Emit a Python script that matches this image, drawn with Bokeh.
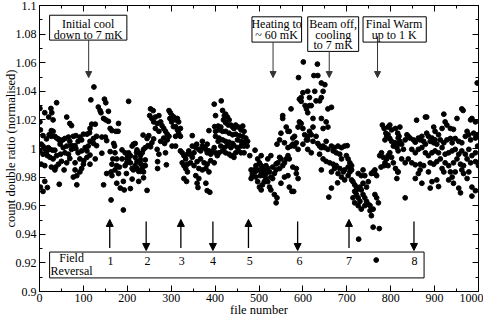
from bokeh.plotting import figure
from bokeh.models import (Range1d, LinearAxis, FixedTicker, CustomJSTickFormatter,
                          BoxAnnotation, Label, Arrow, NormalHead)
from bokeh.embed import file_html
from bokeh.resources import INLINE

FONT = "Liberation Serif"

# ---------------- data ----------------
seg_0_200 = [(124,1.043),(117,1.034),(148,1.0345),(151,1.032),(39,1.032),(203,1.033),(1,1.028),(12,1.025),(26,1.028),(28,1.025),(21,1.022),(31,1.020),(62,1.022),(69,1.0175),(73,1.016),(134,1.029),(138,1.0265),(140,1.025),(157,1.026),(146,1.021),(151,1.020),(157,1.019),(119,1.017),(127,1.017),(180,1.0175),(115,1.014),(1,1.0186),(2,1.013),(161,1.014),(165,1.0125),(174,1.012),(179,1.012),(27,1.0125),(31,1.012),(22,1.0096),(8,1.009),(16,1.0067),(27,1.0085),(35,1.0085),(39,1.0073),(43,1.0067),(45,1.0058),(48,1.005),(53,1.006),(58,1.007),(66,1.008),(69,1.005),(77,1.0085),(83,1.009),(92,1.008),(100,1.010),(108,1.010),(114,1.011),(96,1.006),(88,1.005),(81,1.002),(73,1.002),(62,1.0017),(54,1.0006),(47,1.003),(115,1.005),(123,1.007),(130,1.0085),(142,1.008),(150,1.008),(153,1.0055),(169,1.0035),(171,1.0017),(123,1.0035),(130,1.002),(111,1.0017),(104,1.0006),(4,1.003),(8,1.0017),(12,1.0),(20,1.0006),(24,0.9994),(30,0.9988),(35,0.9988),(1,0.9983),(16,0.9976),(8,0.996),(18,0.995),(24,0.9938),(31,0.9927),(39,0.995),(48,0.996),(58,0.997),(66,0.996),(73,0.9994),(83,0.9999),(88,0.997),(96,0.9983),(108,0.9983),(115,0.9954),(108,0.9938),(101,0.9915),(92,0.9927),(81,0.990),(69,0.993),(62,0.990),(50,0.991),(43,0.989),(37,0.987),(27,0.987),(12,0.988),(4,0.989),(35,0.985),(56,0.985),(81,0.985),(96,0.986),(92,0.9836),(85,0.981),(77,0.980),(100,0.989),(115,0.989),(127,0.9927),(142,0.9967),(161,0.9978),(172,0.997),(188,0.999),(195,0.997),(201,0.9956),(199,0.993),(188,0.9927),(176,0.9927),(167,0.9927),(165,0.989),(176,0.988),(182,0.987),(195,0.988),(199,0.990),(172,0.985),(163,0.9836),(153,0.9825),(180,0.9825),(198,0.9825),(191,0.977),(176,0.9757),(184,0.9723),(193,0.971),(165,0.981),(146,0.9746),(163,0.964),(191,0.957),(85,0.9746),(45,0.975),(12,0.977),(8,0.970),(2,0.973),(18,0.9727)]

seg_200_410 = [(203,0.997),(207,0.995),(211,1.0017),(214,1.003),(218,1.0035),(222,0.999),(226,0.997),(230,0.995),(234,0.997),(237,0.9994),(241,1.0006),(236,1.0094),(245,1.007),(249,1.009),(247,1.002),(253,1.0012),(256,1.004),(260,1.0067),(207,0.990),(211,0.986),(214,0.985),(218,0.988),(222,0.986),(226,0.984),(230,0.984),(234,0.986),(237,0.988),(241,0.988),(237,0.9836),(211,0.9786),(226,0.977),(237,0.9795),(207,0.972),(245,0.9707),(222,0.9908),(230,0.992),(203,0.9927),(231,0.989),(218,0.9938),(241,0.992),(221,0.997),
               (253,1.0277),(259,1.0265),(251,1.023),(256,1.021),(264,1.022),(272,1.023),(260,1.0186),(268,1.0175),(276,1.0186),(279,1.016),(283,1.014),(264,1.014),(272,1.012),(287,1.012),(291,1.010),(295,1.0265),(298,1.025),(302,1.023),(306,1.022),(310,1.020),(314,1.021),(317,1.0186),(297,1.021),(301,1.0186),(305,1.0153),(310,1.0153),(314,1.013),(317,1.0107),(321,1.014),(310,1.0085),(321,1.0085),(295,1.0085),(283,1.0073),(276,1.005),(285,1.0035),(291,1.006),(302,1.0017),(310,1.0017),(268,0.9994),(272,0.996),(287,0.997),(269,0.9908),(269,0.986),(289,0.9886),(348,1.009),
               (321,0.9983),(325,0.997),(329,0.995),(333,0.9927),(337,0.996),(340,0.9983),(344,0.996),(348,0.9938),(352,0.997),(356,1.0006),(358,1.003),(363,0.9994),(367,0.9983),(371,1.0017),(375,1.0006),(379,0.9994),(382,0.997),(386,0.9983),(390,0.996),(394,0.9983),(398,1.0006),(401,0.997),(405,0.995),(325,0.990),(329,0.988),(333,0.986),(337,0.989),(344,0.990),(352,0.988),(359,0.9908),(367,0.9927),(375,0.990),(382,0.989),(390,0.9915),(398,0.990),(363,0.986),(371,0.985),(379,0.986),(386,0.9836),(337,0.9836),(329,0.979),(335,0.977),(356,0.981),(363,0.979),(359,0.9757),(361,0.9727),(379,0.9757),(382,0.9705),(388,0.9694),(348,1.0017),(398,1.031),(401,1.023),(399,1.0153),(407,1.0157),(386,1.0125),(401,1.012),(401,1.0085),(407,1.005),(371,1.005),(382,1.003)]

seg_410_615 = [(414,1.0333),(417,1.0266),(421,1.023),(424,1.024),(428,1.022),(432,1.020),(419,1.020),(424,1.018),(430,1.0164),(436,1.0164),(440,1.015),(443,1.014),(447,1.0164),(453,1.015),(463,1.0157),(459,1.013),(466,1.012),(413,1.015),(409,1.013),(417,1.012),(424,1.012),(432,1.0107),(440,1.0096),(447,1.010),(455,1.009),(463,1.0085),(470,1.0073),(451,1.006),(459,1.005),(466,1.0044),(474,1.005),(409,1.0073),(417,1.006),(424,1.005),(432,1.0044),(440,1.0035),(413,1.0017),(421,1.0006),(428,1.002),(436,1.0006),(443,1.002),(451,1.0006),(459,1.0017),(466,1.0017),(473,1.0017),(409,0.997),(417,0.9983),(424,0.997),(432,0.996),(440,0.995),(447,0.997),(453,0.9983),(459,0.997),(466,0.997),(479,0.995),(491,0.9988),(443,0.9938),(436,0.995),
               (482,0.985),(485,0.9825),(489,0.985),(482,0.979),(485,0.981),(491,0.9836),(493,0.988),(497,0.9927),(501,0.990),(505,0.988),(508,0.986),(505,0.995),(512,0.985),(516,0.988),(520,0.986),(524,0.9836),(527,0.995),(520,0.9927),(497,0.9768),(501,0.973),(505,0.971),(508,0.9746),(512,0.9768),(516,0.979),(520,0.9768),(524,0.973),(527,0.971),(531,0.979),(535,0.9825),(539,0.985),(535,0.9678),(539,0.962),(493,0.980),(503,0.981),(511,0.981),(516,0.9825),(505,0.9836),(527,0.980),(531,0.987),(497,0.985),
               (539,0.9892),(543,0.990),(547,0.9938),(550,0.9927),(547,0.986),(554,0.988),(558,0.990),(562,0.9927),(566,0.995),(569,0.9927),(541,1.003),(547,1.006),(550,1.0107),(554,1.023),(554,1.021),(562,1.015),(566,1.012),(569,1.012),(558,1.004),(566,1.0006),(573,1.0017),(577,1.003),(581,1.0017),(585,1.004),(577,1.0073),(581,1.0085),(589,1.015),(592,1.0186),(596,1.0175),(600,1.014),(604,1.0096),(608,1.006),(592,1.0345),(596,1.0356),(600,1.039),(590,1.0496),(601,1.0605),(611,1.040),(615,1.030),(608,1.0277),(573,1.0277),(577,0.987),(585,0.986),(585,0.9825),(569,0.973),(575,0.970),(579,0.970),(566,0.981),(589,0.979),(550,0.9757),(558,0.980),(541,0.9655),(589,0.9994),(600,1.003),(611,0.9994),(611,1.0085),(605,1.030),(596,1.033)]

seg_615_820 = [(633,1.059),(625,1.051),(634,1.051),(642,1.0458),(650,1.0446),(627,1.040),(646,1.040),(615,1.0356),(630,1.0333),(638,1.0333),(642,1.0356),(657,1.0277),(665,1.0288),(619,1.030),(611,1.025),(623,1.021),(642,1.021),(653,1.0186),(657,1.015),(646,1.014),(623,1.015),(615,1.012),(619,1.0096),(630,1.0085),(611,1.006),(623,1.005),(634,1.0035),(646,1.0017),(653,1.005),(619,0.997),(638,1.0017),(642,1.0006),(650,1.0006),(657,0.9994),(665,1.0017),(672,1.0006),(680,1.0017),(688,1.0006),(695,1.0017),(701,1.002),(669,0.9983),(676,0.997),(684,0.996),(638,0.996),(646,0.9927),(653,0.991),(661,0.990),(669,0.989),(676,0.988),(684,0.986),(692,0.9836),(695,0.985),(688,0.9927),(699,0.995),(703,0.9927),(707,0.990),(711,0.988),(703,0.987),(642,0.985),(665,0.9836),(672,0.986),(680,0.9825),(688,0.980),(695,0.978),(665,0.9723),(679,0.976),(659,0.966),(703,0.981),(707,0.9836),(711,0.985),
               (711,0.978),(714,0.9768),(718,0.9746),(722,0.973),(726,0.9723),(730,0.973),(733,0.971),(718,0.970),(722,0.9678),(726,0.9655),(714,0.9655),(718,0.962),(726,0.960),(733,0.9576),(730,0.963),(737,0.9678),(741,0.9655),(745,0.963),(749,0.961),(753,0.9565),(756,0.953),(741,0.960),(737,0.9757),(741,0.981),(745,0.973),(749,0.9768),(756,0.9825),(760,0.9836),(764,0.9825),(768,0.981),(764,0.9678),(768,0.9655),(772,0.962),(760,0.9576),(753,0.960),(760,0.945),(774,0.944),(737,0.985),(726,0.9825),(733,0.981),(722,0.971),(727,0.9366),(767,0.922),
               (775,0.995),(779,0.997),(783,0.9938),(787,0.990),(791,0.9927),(794,0.995),(798,0.997),(802,0.9938),(806,0.990),(811,0.986),(816,0.9836),(787,1.006),(791,1.0085),(794,1.0096),(798,1.007),(802,1.005),(806,1.0017),(810,1.004),(814,1.0006),(817,0.9983),(781,1.0164),(785,1.014),(789,1.0107),(794,1.015),(798,1.0164),(802,1.013),(811,1.014),(816,1.0107),(819,1.0085),(817,1.003),(778,0.987),(785,0.988),(794,0.988),(814,0.979),(764,0.985)]

seg_820_1000 = [(833,0.9655),(859,1.0198),(879,1.022),(882,1.022),(921,1.024),(962,1.0277),(965,1.0266),(982,1.020),(985,1.021),(993,1.0186),(997,1.0458),(951,1.021),(924,1.0186),(928,1.0164),(936,1.014),(943,1.0134),(898,1.015),(901,1.012),(917,1.014),(909,1.0096),(821,1.015),(817,1.0073),(821,1.005),(825,1.003),(829,0.9994),(833,1.006),(837,1.0096),(840,1.0085),(844,1.0073),(852,1.006),(856,1.0044),(863,1.0073),(867,1.006),(871,1.0085),(875,1.005),(879,1.003),(882,1.0107),(886,1.0085),(890,1.005),(894,1.0073),(898,1.004),(901,1.006),(905,1.003),(913,1.006),(921,1.004),(928,1.006),(936,1.007),(940,1.004),(947,1.007),(955,1.005),(962,1.004),(970,1.0085),(974,1.012),(978,1.0096),(982,1.006),(989,1.0107),(993,1.0073),(998,1.0017),(997,1.0096),
                (848,0.9994),(856,0.997),(863,0.9994),(871,1.0006),(879,0.997),(886,0.995),(894,0.997),(901,0.9983),(909,0.997),(917,1.0006),(924,0.996),(932,0.997),(940,0.9983),(947,0.9994),(955,0.996),(962,0.9983),(970,0.996),(978,0.9994),(985,0.995),(993,0.997),(825,0.9927),(833,0.990),(840,0.9927),(848,0.990),(856,0.9886),(867,0.989),(875,0.988),(890,0.990),(898,0.989),(905,0.9908),(913,0.9927),(924,0.990),(932,0.988),(943,0.990),(951,0.9927),(959,0.989),(966,0.988),(974,0.9927),(982,0.990),(993,0.9908),
                (817,0.9836),(856,0.979),(863,0.9825),(867,0.985),(871,0.9757),(886,0.9836),(890,0.9723),(894,0.9768),(905,0.978),(909,0.9734),(917,0.986),(921,0.9836),(932,0.978),(936,0.9836),(940,0.980),(943,0.9757),(947,0.9836),(955,0.9723),(959,0.969),(962,0.985),(966,0.9825),(974,0.979),(978,0.9836),(985,0.973),(985,0.9667),(993,0.9705),(1000,0.988),(999,0.990)]

x_ticks = [0, 100, 200, 300, 400, 500, 600, 700, 800, 900, 1000]
x_minor = [50, 150, 250, 350, 450, 550, 650, 750, 850, 950]
y_ticks = [0.9, 0.92, 0.94, 0.96, 0.98, 1.0, 1.02, 1.04, 1.06, 1.08, 1.1]
y_minor = [0.91, 0.93, 0.95, 0.97, 0.99, 1.01, 1.03, 1.05, 1.07, 1.09]

# top annotations: (text lines, box left, right, top, bottom, text x, line ys, arrow x, arrow start y, arrow end y)
notes = [
    (["Initial cool", "down to 7 mK"], 23, 199, 1.0932, 1.0758, 111, [1.0870, 1.0797], 112, 1.0758, 1.0496),
    (["Heating to", "~ 60 mK"], 484, 597, 1.0921, 1.0744, 540, [1.0871, 1.0792], 532, 1.0744, 1.0496),
    (["Beam off,", "cooling", "to 7 mK"], 611, 727, 1.0921, 1.0679, 669, [1.0871, 1.0797, 1.0724], 660, 1.0679, 1.0496),
    (["Final Warm", "up to 1 K"], 737, 881, 1.0921, 1.0744, 808, [1.0871, 1.0792], 770, 1.0785, 1.0496),
]

reversal_numbers = ["1", "2", "3", "4", "5", "6", "7", "8"]
reversal_label_x = [162, 246, 324, 395, 479, 592, 705, 854]
reversal_arrow_x = [160, 243, 322, 395, 476, 588, 705, 853]
reversal_up = [True, False, True, False, True, False, True, False]

# ---------------- figure ----------------
p = figure(width=483, height=319, x_range=Range1d(0, 1000), y_range=Range1d(0.9, 1.1),
           output_backend="svg", toolbar_location=None,
           min_border_top=5, min_border_right=5, min_border_left=0, min_border_bottom=0,
           x_axis_label="file number", y_axis_label="count double ratio (normalised)")
p.grid.visible = False
p.outline_line_color = "black"
p.outline_line_width = 1
p.background_fill_color = "white"
p.border_fill_color = "white"

y_fmt = CustomJSTickFormatter(code="return String(Number(tick.toFixed(2)));")
blank_fmt = CustomJSTickFormatter(code="return '';")

def style_axis(ax, ticks, minor, labels=True, fmt=None):
    ax.ticker = FixedTicker(ticks=ticks, minor_ticks=minor)
    ax.axis_line_color = "black"
    ax.major_tick_line_color = "black"
    ax.minor_tick_line_color = "black"
    ax.major_tick_in = 6
    ax.major_tick_out = 0
    ax.minor_tick_in = 3
    ax.minor_tick_out = 0
    if fmt is not None:
        ax.formatter = fmt
    ax.major_label_text_font = FONT
    ax.major_label_text_color = "black"
    if labels:
        ax.major_label_text_font_size = "12px"
        ax.axis_label_text_font = FONT
        ax.axis_label_text_font_size = "12.5px"
        ax.axis_label_text_font_style = "normal"
        ax.axis_label_text_color = "black"
    else:
        ax.major_label_text_font_size = "1px"
        ax.major_label_standoff = 0
        ax.axis_label_standoff = 0

style_axis(p.xaxis[0], x_ticks, x_minor)
p.xaxis[0].major_label_standoff = 2
p.xaxis[0].axis_label_standoff = -2
style_axis(p.yaxis[0], y_ticks, y_minor, fmt=y_fmt)
p.yaxis[0].major_label_standoff = 3
p.yaxis[0].axis_label_standoff = -5

right = LinearAxis()
style_axis(right, y_ticks, y_minor, labels=False, fmt=blank_fmt)
p.add_layout(right, "right")
top = LinearAxis()
style_axis(top, x_ticks, x_minor, labels=False, fmt=blank_fmt)
p.add_layout(top, "above")

# points
all_pts = seg_0_200 + seg_200_410 + seg_410_615 + seg_615_820 + seg_820_1000
xs = [a for a, b in all_pts]
ys = [b for a, b in all_pts]
p.scatter(xs, ys, size=4.8, marker="circle", fill_color="black", line_color="black")

# top annotation boxes
for lines, bl, br, bt, bb, tx, lys, ax_, ay0, ay1 in notes:
    p.add_layout(BoxAnnotation(left=bl, right=br, top=bt, bottom=bb, fill_color="white",
                               fill_alpha=1.0, line_color="black", line_width=1, line_alpha=1.0))
    for t, ly in zip(lines, lys):
        p.add_layout(Label(x=tx, y=ly, text=t, text_align="center", text_baseline="middle",
                           text_font=FONT, text_font_size="12px", text_color="black"))
    p.add_layout(Arrow(end=NormalHead(size=6, fill_color="#333333", line_color="#333333", line_width=1),
                       x_start=ax_, y_start=ay0, x_end=ax_, y_end=ay1,
                       line_color="#333333", line_width=1))

# field reversal box
p.add_layout(BoxAnnotation(left=23, right=876, top=0.9276, bottom=0.9095, fill_alpha=0,
                           line_color="black", line_width=1, line_alpha=1.0))
p.add_layout(Label(x=73, y=0.9232, text="Field", text_align="center", text_baseline="middle",
                   text_font=FONT, text_font_size="12px", text_color="black"))
p.add_layout(Label(x=73, y=0.9142, text="Reversal", text_align="center", text_baseline="middle",
                   text_font=FONT, text_font_size="12px", text_color="black"))
for num, lx, axx, up in zip(reversal_numbers, reversal_label_x, reversal_arrow_x, reversal_up):
    p.add_layout(Label(x=lx, y=0.9215, text=num, text_align="center", text_baseline="middle",
                       text_font=FONT, text_font_size="12px", text_color="black"))
    if up:
        y0, y1 = 0.9305, 0.9504
    else:
        y0, y1 = 0.9490, 0.9287
    p.add_layout(Arrow(end=NormalHead(size=7, fill_color="black", line_color="black", line_width=1),
                       x_start=axx, y_start=y0, x_end=axx, y_end=y1,
                       line_color="black", line_width=1.3))

open("out.html", "w").write(file_html(p, INLINE))
